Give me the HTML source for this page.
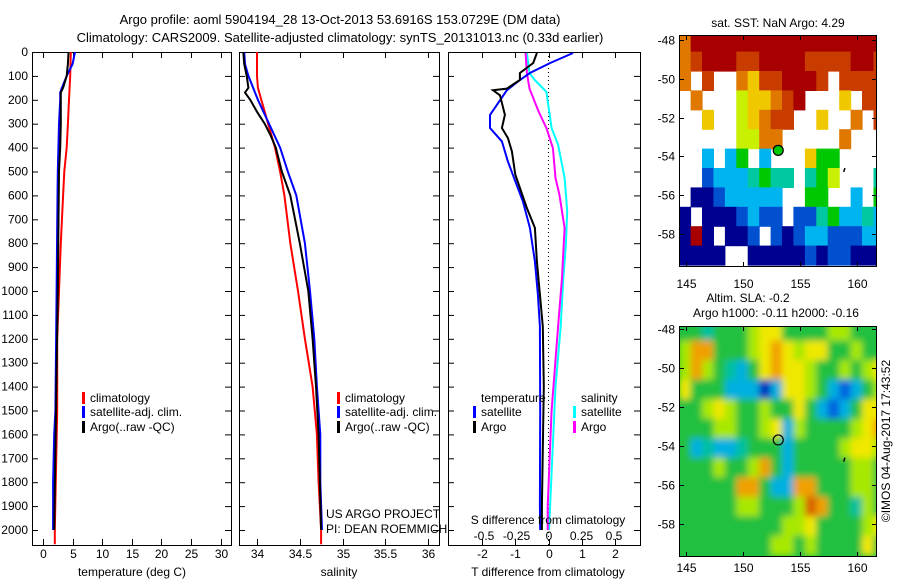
<!DOCTYPE html>
<html><head><meta charset="utf-8"><style>
html,body{margin:0;padding:0;background:#fff;}
svg{display:block;font-family:"Liberation Sans",sans-serif;}
text{font-size:12px;fill:#000;}
</style></head><body>
<svg id="s" width="900" height="580" viewBox="0 0 900 580">
<defs><filter id="blur" x="-10%" y="-10%" width="120%" height="120%"><feGaussianBlur stdDeviation="3.5"/></filter></defs>
<text x="340" y="24" text-anchor="middle" style="font-size:13px">Argo profile: aoml 5904194_28 13-Oct-2013 53.6916S 153.0729E (DM data)</text>
<text x="340" y="42" text-anchor="middle" style="font-size:13px">Climatology: CARS2009. Satellite-adjusted climatology: synTS_20131013.nc (0.33d earlier)</text>
<g id="g"></g>
</svg>
<script>
// ---- data ----
const depthTc = [0,100,200,300,400,500,600,800,1000,1200,1500,2000,2060];
const tempClim = [4.7,4.6,4.4,4.2,4.0,3.6,3.4,3.0,2.7,2.4,2.4,2.0,2.0];
const depthTs = [0,50,100,150,170,200,300,500,600,1000,1500,1600,1800,2000];
const tempSat = [5.4,5.0,4.0,3.2,2.9,2.9,2.7,2.5,2.45,2.3,2.1,1.9,1.7,1.7];
const depthTa = [0,50,100,150,170,200,300,400,500,1000,1500,2000];
const tempArgo = [4.3,4.2,4.0,3.4,3.0,3.0,3.0,2.9,2.7,2.5,2.2,1.9];
const depthSc = [0,100,150,200,300,400,500,600,800,1000,1200,1400,1600,1800,2000,2060];
const salClim = [34.0,34.0,34.01,34.05,34.13,34.21,34.27,34.32,34.39,34.48,34.56,34.65,34.70,34.72,34.75,34.75];
const depthSs = [0,50,100,200,300,400,500,600,800,1000,1200,1400,1600,1800,2000];
const salSat = [33.85,33.86,33.9,34.01,34.14,34.27,34.36,34.46,34.56,34.62,34.67,34.70,34.74,34.74,34.76];
const depthSa = [0,50,100,150,170,200,250,300,350,400,500,600,800,1000,1200,1400,1600,2000];
const salArgo = [33.84,33.85,33.88,33.9,33.86,33.92,34.0,34.09,34.16,34.22,34.29,34.39,34.5,34.6,34.65,34.69,34.72,34.75];
const depthDT = [4,46,88,117,160,263,318,374,458,541,625,736,876,1015,1148,1500,1900,2000];
const dTsat = [0.74,0.05,-0.56,-0.86,-1.25,-1.76,-1.76,-1.4,-1.22,-1.0,-0.77,-0.56,-0.41,-0.32,-0.26,-0.25,-0.26,-0.25];
const depthDA = [4,46,88,117,153,160,181,263,318,360,416,513,653,736,876,1015,1148,1400,1900,2000];
const dTargo = [-0.35,-0.46,-0.86,-0.86,-1.25,-1.67,-1.46,-1.31,-1.4,-1.22,-1.1,-1.0,-0.65,-0.41,-0.35,-0.26,-0.17,-0.14,-0.2,-0.2];
const depthDS = [4,88,117,167,318,388,527,666,806,945,1148,1400,2000];
const dSsat = [-0.17,-0.15,-0.11,-0.02,0.02,0.07,0.12,0.14,0.13,0.11,0.09,0.05,0.0];
const depthDSA = [4,88,153,249,318,402,527,597,736,945,1148,1500,1900,2000];
const dSargo = [-0.18,-0.17,-0.15,-0.08,-0.02,0.03,0.05,0.08,0.12,0.1,0.07,0.02,-0.01,-0.01];
const depthTicks = [0,100,200,300,400,500,600,700,800,900,1000,1100,1200,1300,1400,1500,1600,1700,1800,1900,2000];
const tempTicks = [0,5,10,15,20,25,30];
const salTicks = [34,34.5,35,35.5,36];
const salTickLabels = ["34","34.5","35","35.5","36"];
const dTTicks = [-2,-1,0,1,2];
const dSTicks = [-0.5,-0.25,0,0.25,0.5];
const dSTickLabels = ["-0.5","-0.25","0","0.25","0.5"];
const latTicks = [-48,-50,-52,-54,-56,-58];
const lonTicks = [145,150,155,160];
const argoLon = 153.07, argoLat = -53.69;
// 1-degree grids, rows from lat -47.6 southwards, cols from lon 144.4 eastwards
const sstRows = [
"oRRRRRRRRRRRRRRRRR",
"orRRRrrRRRRrrrrRRr",
"o.r..oyrrRRRr.rrrr",
".o...lyyorR...y.rr",
"..y..lyorr..y..o.r",
".....lloo.....o...",
"..c.cg.c...ygg....",
"..bccctgtt.tgl...t",
".nnbccccc..gg..c.g",
"n.nnnbcbb.bbtgcctc",
"nRn.nnb.bnbccbbbcc",
"nnnn..nnnnnbnbbnnn"];
const slaRows = [
"ggtggglyyggggllggg",
"looggglyoylyygglgg",
"lolgtcgyoyylgglgly",
"ygggcccBcyylgcbcgl",
"gglylgglggygcbcgyy",
"gggllgglyclgggglyo",
"gctcctgggcgggglyyl",
"ggglgglogcgggggllg",
"gggggoogccoogggllg",
"gggggllggglOoggtlg",
"gggggggggllyggggly",
"ggggggggllglggggyg"];
const sstColors = {R:"#a80000",r:"#c83c00",o:"#e07800",y:"#f0c800",l:"#c8f000",g:"#00c800",t:"#00c8a0",c:"#00b4f0",b:"#0050d0",n:"#000090"};
const slaColors = {g:"#20c040",l:"#a8e800",y:"#f0e800",o:"#f0a000",O:"#d86000",t:"#00c0a0",c:"#00b0e0",b:"#0060e0",B:"#0030c0"};

// ---- drawing ----
const NS="http://www.w3.org/2000/svg";
const G=document.getElementById('g');
function mk(tag,attrs,parent,txt){const e=document.createElementNS(NS,tag);for(const k in attrs)e.setAttribute(k,attrs[k]);if(txt!==undefined)e.textContent=txt;(parent||G).appendChild(e);return e;}
const TOP=52,BOT=545;
const yD=d=>TOP+d*0.239;
const xT=t=>43+t*5.92;
const xS=s=>257+(s-34)*85.5;
const xDT=v=>548.5+v*33.25;
const xDS=v=>549+v*130;
function line(xs,ds,fx,color,name){
  const pts=xs.map((v,i)=>fx(v).toFixed(1)+","+yD(ds[i]).toFixed(1)).join(" ");
  const e=mk('polyline',{points:pts,fill:"none",stroke:color,"stroke-width":2});
  
  
}
function frame(x0,x1,name){
  const r=mk('rect',{x:x0+0.5,y:TOP+0.5,width:x1-x0,height:BOT-TOP,fill:"none",stroke:"#000"});
  
  
  depthTicks.forEach(d=>{const y=yD(d)+0.5;mk('line',{x1:x0,x2:x0+6,y1:y,y2:y,stroke:"#000"});mk('line',{x1:x1-6,x2:x1,y1:y,y2:y,stroke:"#000"});});
}
function xticks(vals,fx,labels,y0){
  vals.forEach((v,i)=>{const x=Math.round(fx(v))+0.5;
    mk('line',{x1:x,x2:x,y1:TOP,y2:TOP+6,stroke:"#000"});mk('line',{x1:x,x2:x,y1:BOT-6,y2:BOT,stroke:"#000"});
    const t=mk('text',{x:x,y:y0,"text-anchor":"middle"},G,labels?labels[i]:String(v));
    
    
  });
}
depthTicks.forEach(d=>{const t=mk('text',{x:28,y:yD(d)+4,"text-anchor":"end"},G,String(d));
  
  });
// panel 1
frame(32,231,'temperature-panel');
xticks(tempTicks,xT,null,558);
line(tempClim,depthTc,xT,"#ff0000","temp-climatology-line");
line(tempSat,depthTs,xT,"#0000ff","temp-satellite-line");
line(tempArgo,depthTa,xT,"#000000","temp-argo-line");
mk('text',{x:132,y:576,"text-anchor":"middle"},G,"temperature (deg C)");
// panel 2
frame(239,439,'salinity-panel');
xticks(salTicks,xS,salTickLabels,558);
line(salClim,depthSc,xS,"#ff0000","sal-climatology-line");
line(salSat,depthSs,xS,"#0000ff","sal-satellite-line");
line(salArgo,depthSa,xS,"#000000","sal-argo-line");
mk('text',{x:339,y:576,"text-anchor":"middle"},G,"salinity");
// panel 3
frame(448,640,'difference-panel');
xticks(dTTicks,xDT,null,558);
mk('line',{x1:548.5,x2:548.5,y1:TOP,y2:BOT,stroke:"#000","stroke-dasharray":"1,3"});
line(dSsat,depthDS,xDS,"#00ffff","s-diff-satellite-line");
line(dSargo,depthDSA,xDS,"#ff00ff","s-diff-argo-line");
line(dTsat,depthDT,xDT,"#0000ff","t-diff-satellite-line");
line(dTargo,depthDA,xDT,"#000000","t-diff-argo-line");
dSTicks.forEach((v,i)=>{const t=mk('text',{x:xDS(v),y:540,"text-anchor":"middle"},G,dSTickLabels[i]);
  
  });
mk('text',{x:548,y:524,"text-anchor":"middle"},G,"S difference from climatology");
mk('text',{x:548,y:576,"text-anchor":"middle"},G,"T difference from climatology");
// legends
function leg(x,y,color,label,name){
  if(color) mk('rect',{x:x,y:y-10,width:3,height:12,fill:color});
  const t=mk('text',{x:x+8,y:y},G,label);
  
  
}
leg(82,402,"#ff0000","climatology","legend-climatology");
leg(82,416,"#0000ff","satellite-adj. clim.","legend-satellite");
leg(82,431,"#000000","Argo(..raw -QC)","legend-argo");
leg(337,402,"#ff0000","climatology","legend2-climatology");
leg(337,416,"#0000ff","satellite-adj. clim.","legend2-satellite");
leg(337,431,"#000000","Argo(..raw -QC)","legend2-argo");
leg(473,402,null,"temperature","legend-temperature-header");
leg(473,416,"#0000ff","satellite","legend-t-satellite");
leg(473,431,"#000000","Argo","legend-t-argo");
leg(573,402,null,"salinity","legend-salinity-header");
leg(573,416,"#00ffff","satellite","legend-s-satellite");
leg(573,431,"#ff00ff","Argo","legend-s-argo");
leg(318,518,null,"US ARGO PROJECT","project-note");
leg(318,533,null,"PI: DEAN ROEMMICH","pi-note");
// maps
function map(top,bot,y48,y58,rows,colors,name,labY,smooth){
  const x0=679,x1=877;
  const px=lon=>686+(lon-145)*11.43;
  const py=lat=>y48+(lat+48)*(y58-y48)/(-10);
  const cl=mk('clipPath',{id:'c'+name});mk('rect',{x:x0,y:top,width:x1-x0,height:bot-top},cl);
  const g=mk('g',{"clip-path":"url(#c"+name+")"});
  
  
  if(smooth) mk('rect',{x:x0,y:top,width:x1-x0,height:bot-top,fill:colors.g},g);
  const inner=mk('g',smooth?{filter:"url(#blur)"}:{},g);
  rows.forEach((row,r)=>{for(let c=0;c<row.length;c++){const ch=row[c];if(!colors[ch])continue;
    const lat=-47.6-r, lon=144.4+c;
    const e=mk('rect',{x:px(lon).toFixed(1),y:py(lat).toFixed(1),width:12,height:(py(lat-1)-py(lat)+0.6).toFixed(1),fill:colors[ch]},inner);
    
    }});
  mk('rect',{x:x0+0.5,y:top+0.5,width:x1-x0-1,height:bot-top-1,fill:"none",stroke:"#000"});
  latTicks.forEach(l=>{const y=Math.round(py(l))+0.5;mk('line',{x1:x0,x2:x0+5,y1:y,y2:y,stroke:"#000"});mk('line',{x1:x1-5,x2:x1,y1:y,y2:y,stroke:"#000"});
    mk('text',{x:675,y:y+4,"text-anchor":"end"},G,String(l));});
  lonTicks.forEach(l=>{const x=Math.round(px(l))+0.5;mk('line',{x1:x,x2:x,y1:top,y2:top+5,stroke:"#000"});mk('line',{x1:x,x2:x,y1:bot-5,y2:bot,stroke:"#000"});
    mk('text',{x:x,y:labY,"text-anchor":"middle"},G,String(l));});
  const m=mk('circle',{cx:px(argoLon),cy:py(argoLat),r:5,fill:name==='sst-map'?"#00c800":"none",stroke:"#000","stroke-width":1.2});
  
  
  mk('line',{x1:px(158.9),x2:px(158.8),y1:py(-54.6),y2:py(-54.8),stroke:"#000","stroke-width":1.5});
}
map(35,267,40,234,sstRows,sstColors,'sst-map',288,false);
map(326,557,329,524,slaRows,slaColors,'sla-map',572,true);
mk('text',{x:778,y:27,"text-anchor":"middle"},G,"sat. SST: NaN Argo: 4.29");
mk('text',{x:748,y:302,"text-anchor":"middle"},G,"Altim. SLA: -0.2");
mk('text',{x:776,y:317,"text-anchor":"middle"},G,"Argo h1000: -0.11 h2000: -0.16");
mk('text',{x:0,y:0,"text-anchor":"middle",transform:"translate(890,441) rotate(-90)"},G,"©IMOS 04-Aug-2017 17:43:52");
</script>
</body></html>
